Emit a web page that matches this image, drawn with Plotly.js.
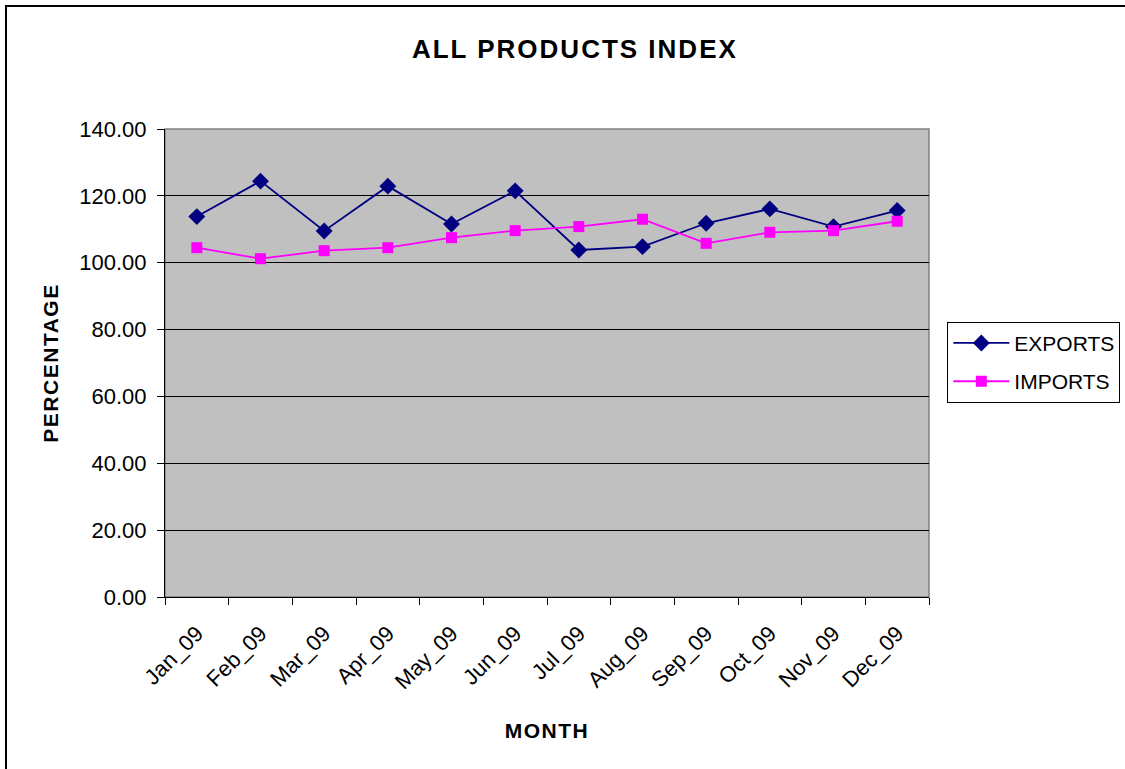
<!DOCTYPE html>
<html>
<head>
<meta charset="utf-8">
<script src="https://cdn.plot.ly/plotly-3.0.1.min.js"></script>
<style>
  html, body { margin: 0; padding: 0; background: #fff; }
  #chart { width: 1125px; height: 769px; }
  #frame { position: absolute; left: 5px; top: 5px; width: 1140px; height: 790px; border: 2px solid #000; pointer-events: none; box-sizing: border-box; }
  #chart .gtitle { letter-spacing: 2px; }
  #chart .g-xtitle text, #chart .g-ytitle text { letter-spacing: 1.5px; }
</style>
</head>
<body>
<div id="chart"></div>
<div id="frame"></div>
<script>
const months = ["Jan_09","Feb_09","Mar_09","Apr_09","May_09","Jun_09","Jul_09","Aug_09","Sep_09","Oct_09","Nov_09","Dec_09"];
const exportsIdx = [113.8, 124.4, 109.5, 122.9, 111.6, 121.5, 103.8, 104.8, 111.8, 116.1, 110.8, 115.6];
const importsIdx = [104.5, 101.2, 103.6, 104.5, 107.5, 109.6, 110.8, 113.0, 105.8, 109.1, 109.6, 112.4];
const yTicks = [0, 20, 40, 60, 80, 100, 120, 140];

const traces = [
  { x: months, y: exportsIdx, name: "EXPORTS", legendgroup: "e", type: "scatter", mode: "lines+markers",
    line: { color: "#000080", width: 1.8 }, marker: { symbol: "diamond", size: 13, color: "#000080" } },
  { x: months, y: importsIdx, name: "IMPORTS", legendgroup: "i", type: "scatter", mode: "lines+markers",
    line: { color: "#FF00FF", width: 1.8 }, marker: { symbol: "square", size: 11, color: "#FF00FF" } }
];

const layout = {
  width: 1125, height: 769,
  margin: { l: 165, r: 196, t: 129, b: 172, autoexpand: false },
  paper_bgcolor: "#ffffff",
  plot_bgcolor: "#C0C0C0",
  font: { family: "Liberation Sans, Arial, sans-serif", color: "#000", size: 22 },
  title: { text: "<b>ALL PRODUCTS INDEX</b>", x: 0.511, xanchor: "center", y: 0.937, yanchor: "middle",
           font: { size: 26, family: "Liberation Sans, Arial, sans-serif" } },
  xaxis: {
    type: "category", range: [-0.5, 11.5], tickson: "boundaries", ticks: "outside", ticklen: 7, tickcolor: "#000",
    tickangle: -45, showline: true, linecolor: "#000", linewidth: 1, showgrid: false,
    tickfont: { size: 22 }, ticklabelstandoff: 14,
    title: { text: "<b>MONTH</b>", font: { size: 21 }, standoff: 30 }
  },
  yaxis: {
    range: [0, 140], tickvals: yTicks, tickformat: ".2f", ticks: "outside", ticklen: 7, tickcolor: "#000",
    showline: true, linecolor: "#000", linewidth: 1, showgrid: true, gridcolor: "#000", gridwidth: 1,
    zeroline: false, tickfont: { size: 22 }, ticklabelstandoff: 6,
    title: { text: "<b>PERCENTAGE</b>", font: { size: 21 }, standoff: 14 }
  },
  legend: {
    x: 1.024, y: 0.588, xanchor: "left", yanchor: "top",
    bgcolor: "#fff", bordercolor: "#000", borderwidth: 1,
    font: { size: 21 }, tracegroupgap: 8, itemwidth: 56
  },
  shapes: [
    { type: "rect", xref: "paper", yref: "paper", x0: 0, x1: 1, y0: 0, y1: 1,
      line: { color: "#808080", width: 1.5 }, layer: "below" }
  ],
  showlegend: true
};

Plotly.newPlot("chart", traces, layout, { displayModeBar: false, staticPlot: true });
</script>
</body>
</html>
